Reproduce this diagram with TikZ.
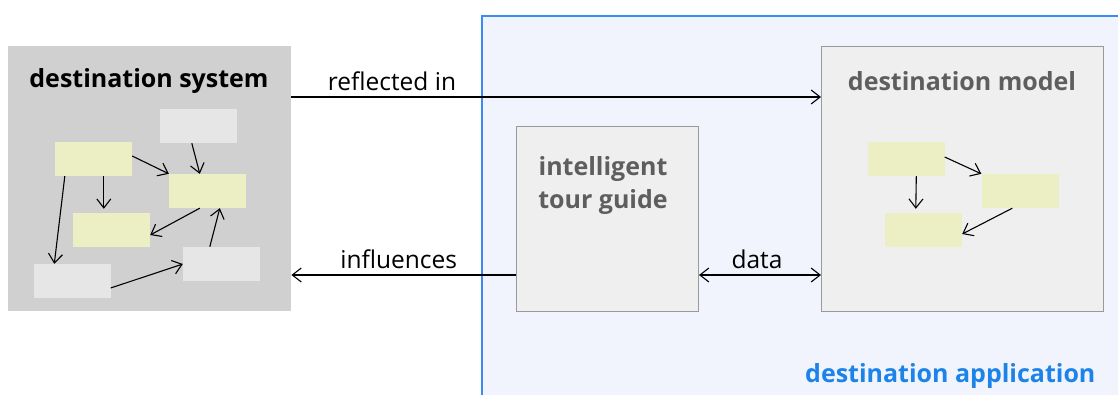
\documentclass[tikz,border=0pt]{standalone}
\usepackage{fontspec}
\setmainfont{Open Sans}
\usetikzlibrary{arrows.meta,calc}
\definecolor{sysgray}{HTML}{D0D0D0}
\definecolor{lightbox}{HTML}{E6E6E6}
\definecolor{yellowbox}{HTML}{ECEEC4}
\definecolor{panelgray}{HTML}{EFEFEF}
\definecolor{panelline}{HTML}{9A9A9A}
\definecolor{appfill}{HTML}{F2F4FD}
\definecolor{appline}{HTML}{3A8CF0}
\definecolor{apptext}{HTML}{1C84E8}
\definecolor{titlegray}{HTML}{5E5E5E}
\tikzset{
  x=1pt, y=-1pt,
  barb/.tip={Straight Barb[length=9pt,width=14pt,line width=1.1pt]},
  tip/.style={-barb},
  link/.style={line width=1.1pt, black},
  mini/.style={minimum width=77pt, minimum height=34pt, inner sep=0pt},
  ybox/.style={mini, fill=yellowbox},
  gbox/.style={mini, fill=lightbox},
  panel/.style={draw=panelline, line width=1pt, fill=panelgray, inner sep=0pt},
  title/.style={font=\bfseries\fontsize{25}{33}\selectfont},
  label/.style={font=\fontsize{24.5}{30}\selectfont, anchor=center, yshift=16pt},
}
\begin{document}
\begin{tikzpicture}
\clip (0,0) rectangle (1118,394);
\fill[white] (0,0) rectangle (1118,394);

% application container
\node[draw=appline, line width=1.7pt, fill=appfill, inner sep=0pt, minimum width=700pt, minimum height=420pt, anchor=north west] (app) at (481,15) {};
\node[title, text=apptext, anchor=east] (apptitle) at (1099,376) {destination application};

% destination system
\node[fill=sysgray, inner sep=0pt, minimum width=283pt, minimum height=265pt, anchor=north west] (sys) at (8,46) {};
\node[title, text=black] (systitle) at (149,81) {destination system};
\node[gbox] (s1) at (198.5,126) {};
\node[ybox] (s2) at (93.5,159) {};
\node[ybox] (s3) at (207.5,191) {};
\node[ybox] (s4) at (111.5,230) {};
\node[gbox] (s5) at (72,281) {};
\node[gbox] (s6) at (221.5,264) {};
\draw[link,tip] ($(s2.east)+(0,-3)$) -- (s3.north west);
\draw[link,tip] ($(s1.south west)+(32,0)$) -- ($(s3.north west)+(31,0)$);
\draw[link,tip] ($(s2.south west)+(49,0)$) -- ($(s4.north west)+(31,-4)$);
\draw[link,tip] ($(s2.south west)+(10,0)$) -- ($(s5.north west)+(21,0)$);
\draw[link,tip] ($(s3.south west)+(31,0)$) -- ($(s4.east)+(0,5)$);
\draw[link,tip] ($(s6.north west)+(27,0)$) -- ($(s3.south west)+(51,0)$);
\draw[link,tip] ($(s5.east)+(0,7)$) -- (s6.west);

% intelligent tour guide
\node[panel, minimum width=182pt, minimum height=185pt, anchor=north west] (guide) at (516,126) {};
\node[title, text=titlegray, align=center] (guidetitle) at (603,186) {intelligent\\tour guide};

% destination model
\node[panel, minimum width=282pt, minimum height=265pt, anchor=north west] (model) at (821,46) {};
\node[title, text=titlegray] (modeltitle) at (962,81) {destination model};
\node[ybox] (m1) at (906,159) {};
\node[ybox] (m2) at (1020,191) {};
\node[ybox] (m3) at (923.5,230) {};
\draw[link,tip] ($(m1.east)+(0,-2)$) -- (m2.north west);
\draw[link,tip] ($(m1.south west)+(49,0)$) -- ($(m3.north west)+(31,-4)$);
\draw[link,tip] ($(m2.south west)+(31,0)$) -- ($(m3.east)+(0,4)$);

% relations
\coordinate (r1) at (291,97);
\draw[link,tip] (r1) -- (r1 -| model.west) node[label, midway, xshift=-164pt] (reflected) {reflected in};
\coordinate (r2) at (516,275);
\draw[link,tip] (r2) -- (r2 -| sys.east) node[label, midway, xshift=-5pt] (infl) {influences};
\draw[link,barb-barb] (guide.east |- r2) -- (model.west |- r2) node[label, midway, xshift=-3pt] (data) {data};
\end{tikzpicture}
\end{document}
